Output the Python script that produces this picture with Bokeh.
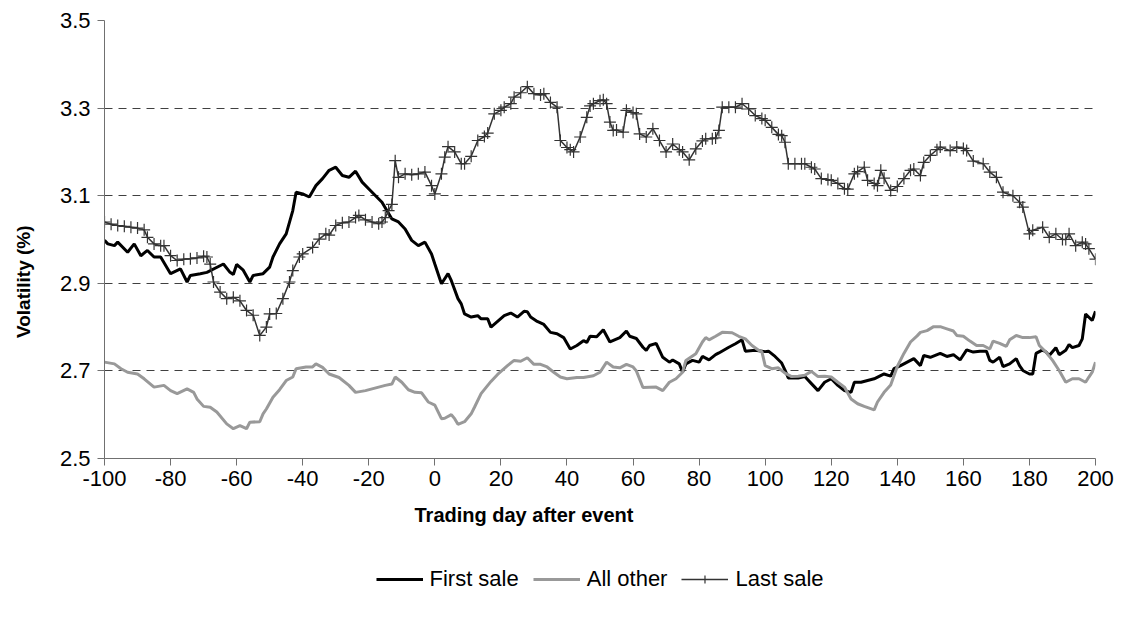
from bokeh.plotting import figure
from bokeh.models import Legend, LegendItem, FixedTicker, NumeralTickFormatter, Label
from bokeh.layouts import column
from bokeh.embed import file_html
from bokeh.resources import INLINE

# ---- data ----
first_day = [-100, -99, -97, -96, -93, -91, -89, -87, -85, -83, -80, -77, -75, -74, -71, -69, -64, -62, -61, -60,
             -58, -56, -55, -52, -50, -49, -47, -45, -43, -42, -40, -38, -36, -34, -32, -30, -28, -26, -24, -22,
             -19, -16, -13, -11, -9, -7, -5, -3, -1, 0, 2, 4, 5, 7, 8, 9, 11, 13, 14, 16,
             17, 19, 21, 23, 25, 27, 28, 29, 31, 33, 35, 37, 39, 41, 43, 45, 46, 47, 49, 51,
             53, 56, 58, 59, 61, 63, 64, 65, 67, 69, 71, 72, 74, 75, 76, 78, 80, 81, 83, 85,
             86, 89, 91, 93, 94, 97, 100, 101, 103, 105, 106, 107, 110, 112, 114, 116, 118, 120, 122, 124,
             126, 127, 129, 131, 133, 136, 138, 139, 141, 143, 145, 147, 148, 150, 153, 155, 157, 159, 161, 163,
             165, 167, 168, 169, 171, 172, 174, 176, 177, 178, 180, 181, 182, 184, 185, 186, 188, 189, 191, 192,
             193, 195, 196, 197, 199, 200]
first_val = [2.998, 2.990, 2.986, 2.994, 2.971, 2.990, 2.963, 2.975, 2.960, 2.960, 2.922, 2.933, 2.903, 2.918, 2.922, 2.925, 2.944, 2.925, 2.920, 2.943,
             2.930, 2.903, 2.918, 2.922, 2.937, 2.960, 2.990, 3.013, 3.066, 3.108, 3.104, 3.097, 3.123, 3.139, 3.158, 3.165, 3.146, 3.142, 3.156, 3.131,
             3.108, 3.085, 3.047, 3.040, 3.024, 2.998, 2.986, 2.994, 2.967, 2.944, 2.899, 2.922, 2.906, 2.865, 2.853, 2.830, 2.823, 2.826, 2.819, 2.819,
             2.800, 2.813, 2.826, 2.832, 2.823, 2.836, 2.835, 2.823, 2.813, 2.806, 2.788, 2.785, 2.776, 2.750, 2.758, 2.769, 2.765, 2.779, 2.778, 2.794,
             2.766, 2.776, 2.791, 2.779, 2.774, 2.754, 2.747, 2.758, 2.763, 2.731, 2.720, 2.725, 2.716, 2.697, 2.716, 2.724, 2.720, 2.733, 2.725, 2.737,
             2.741, 2.754, 2.762, 2.771, 2.745, 2.747, 2.744, 2.745, 2.733, 2.718, 2.702, 2.684, 2.684, 2.687, 2.671, 2.655, 2.674, 2.682, 2.667, 2.655,
             2.651, 2.674, 2.674, 2.678, 2.682, 2.693, 2.688, 2.705, 2.712, 2.720, 2.728, 2.712, 2.735, 2.731, 2.740, 2.733, 2.737, 2.725, 2.748, 2.743,
             2.745, 2.745, 2.724, 2.720, 2.731, 2.710, 2.716, 2.728, 2.712, 2.701, 2.693, 2.693, 2.740, 2.748, 2.743, 2.735, 2.753, 2.737, 2.747, 2.760,
             2.753, 2.758, 2.773, 2.830, 2.815, 2.836]

other_day = [-100, -97, -95, -93, -90, -88, -85, -82, -80, -78, -75, -73, -72, -70, -68, -66, -63, -61, -59, -57,
             -56, -53, -52, -51, -49, -47, -45, -43, -42, -39, -37, -36, -34, -32, -29, -26, -24, -21, -19, -17,
             -15, -13, -12, -10, -8, -6, -4, -2, 0, 2, 3, 5, 6, 7, 9, 11, 12, 14, 17, 19,
             22, 24, 26, 28, 30, 32, 34, 36, 38, 40, 43, 45, 48, 50, 52, 54, 56, 58, 60, 61,
             63, 67, 69, 71, 73, 75, 76, 79, 81, 82, 83, 85, 87, 90, 92, 94, 96, 98, 99, 100,
             102, 104, 106, 108, 110, 112, 114, 116, 118, 120, 122, 124, 126, 128, 130, 133, 134, 136, 138, 140,
             142, 144, 146, 147, 149, 151, 153, 155, 157, 158, 160, 162, 164, 166, 168, 169, 171, 173, 174, 176,
             178, 180, 182, 183, 185, 187, 189, 191, 193, 195, 197, 198, 199, 200]
other_val = [2.720, 2.716, 2.705, 2.697, 2.693, 2.682, 2.663, 2.667, 2.655, 2.648, 2.659, 2.651, 2.636, 2.619, 2.617, 2.606, 2.579, 2.568, 2.575, 2.568,
             2.583, 2.584, 2.602, 2.613, 2.640, 2.657, 2.678, 2.686, 2.705, 2.709, 2.709, 2.716, 2.708, 2.693, 2.685, 2.667, 2.651, 2.655, 2.659, 2.663,
             2.667, 2.670, 2.686, 2.674, 2.657, 2.651, 2.650, 2.629, 2.622, 2.591, 2.592, 2.600, 2.591, 2.578, 2.584, 2.602, 2.617, 2.648, 2.676, 2.692,
             2.712, 2.724, 2.722, 2.730, 2.715, 2.715, 2.709, 2.697, 2.686, 2.682, 2.685, 2.685, 2.689, 2.697, 2.720, 2.709, 2.707, 2.715, 2.709, 2.700,
             2.662, 2.663, 2.655, 2.674, 2.682, 2.697, 2.724, 2.739, 2.766, 2.776, 2.771, 2.779, 2.788, 2.787, 2.779, 2.773, 2.758, 2.747, 2.744, 2.712,
             2.705, 2.707, 2.695, 2.687, 2.688, 2.690, 2.699, 2.687, 2.688, 2.686, 2.674, 2.663, 2.636, 2.625, 2.619, 2.611, 2.629, 2.651, 2.668, 2.710,
             2.740, 2.766, 2.780, 2.788, 2.792, 2.801, 2.801, 2.796, 2.791, 2.781, 2.779, 2.768, 2.758, 2.758, 2.750, 2.768, 2.763, 2.756, 2.771, 2.781,
             2.776, 2.776, 2.778, 2.758, 2.743, 2.724, 2.701, 2.674, 2.682, 2.682, 2.674, 2.686, 2.697, 2.720]

last_day = [-100, -98, -96, -94, -92, -90, -88, -87, -85, -83, -82, -80, -78, -76, -74, -72, -70, -69, -68, -67,
            -65, -63, -61, -59, -57, -55, -53, -51, -50, -48, -46, -44, -43, -41, -40, -37, -35, -33, -32, -30,
            -28, -26, -24, -23, -21, -19, -17, -16, -15, -14, -13, -12, -11, -9, -7, -5, -3, -1, 0, 2,
            3, 4, 6, 8, 9, 11, 13, 15, 16, 18, 20, 21, 23, 24, 26, 28, 30, 32, 33, 35,
            37, 38, 40, 41, 42, 44, 46, 47, 48, 50, 51, 52, 53, 54, 55, 57, 58, 60, 61, 62,
            64, 66, 68, 70, 72, 74, 75, 77, 79, 81, 82, 84, 85, 86, 87, 89, 91, 93, 95, 97,
            99, 100, 102, 104, 105, 106, 107, 109, 111, 112, 114, 115, 117, 119, 120, 122, 124, 125, 127, 128,
            130, 131, 133, 134, 135, 136, 138, 140, 142, 144, 145, 147, 148, 150, 152, 153, 156, 158, 160, 161,
            163, 166, 168, 170, 172, 175, 177, 178, 180, 181, 184, 186, 188, 190, 191, 192, 194, 196, 197, 198,
            200]
last_val = [3.040, 3.035, 3.032, 3.030, 3.028, 3.026, 3.022, 3.005, 2.990, 2.986, 2.986, 2.963, 2.952, 2.955, 2.956, 2.958, 2.962, 2.960, 2.944, 2.903,
            2.880, 2.865, 2.868, 2.860, 2.838, 2.827, 2.781, 2.800, 2.830, 2.831, 2.865, 2.903, 2.929, 2.960, 2.967, 2.982, 3.001, 3.013, 3.010, 3.032,
            3.038, 3.040, 3.050, 3.055, 3.045, 3.040, 3.036, 3.040, 3.050, 3.066, 3.080, 3.180, 3.142, 3.150, 3.148, 3.150, 3.154, 3.123, 3.104, 3.150,
            3.188, 3.212, 3.200, 3.173, 3.173, 3.190, 3.226, 3.235, 3.243, 3.287, 3.295, 3.302, 3.310, 3.325, 3.335, 3.349, 3.333, 3.330, 3.333, 3.313,
            3.302, 3.226, 3.210, 3.205, 3.200, 3.234, 3.279, 3.305, 3.310, 3.317, 3.319, 3.310, 3.268, 3.249, 3.250, 3.245, 3.295, 3.290, 3.287, 3.241,
            3.234, 3.253, 3.226, 3.200, 3.218, 3.205, 3.200, 3.182, 3.207, 3.225, 3.230, 3.230, 3.232, 3.249, 3.302, 3.302, 3.302, 3.310, 3.298, 3.283,
            3.276, 3.272, 3.256, 3.240, 3.237, 3.222, 3.173, 3.173, 3.173, 3.173, 3.165, 3.161, 3.139, 3.137, 3.135, 3.128, 3.116, 3.115, 3.150, 3.155,
            3.165, 3.135, 3.128, 3.123, 3.158, 3.140, 3.112, 3.121, 3.139, 3.158, 3.161, 3.146, 3.176, 3.192, 3.205, 3.211, 3.203, 3.211, 3.208, 3.203,
            3.179, 3.173, 3.154, 3.142, 3.108, 3.100, 3.085, 3.074, 3.013, 3.021, 3.028, 3.005, 3.013, 3.000, 3.000, 3.013, 2.986, 2.994, 2.990, 2.979,
            2.955]

y_ticks = [2.5, 2.7, 2.9, 3.1, 3.3, 3.5]
x_ticks = list(range(-100, 201, 20))
series_names = ["First sale", "All other", "Last sale"]
x_title = "Trading day after event"
y_title = "Volatility (%)"

FONT = "Liberation Sans"
C_FIRST, C_OTHER, C_LAST = "black", "#999999", "#333333"

# ---------------- main chart ----------------
p = figure(width=1117, height=498, x_range=(-100, 200), y_range=(2.5, 3.5),
           output_backend="svg", toolbar_location=None,
           min_border_left=104, min_border_right=22, min_border_top=20, min_border_bottom=40)
p.outline_line_color = None
p.background_fill_color = "white"
p.border_fill_color = "white"

p.xgrid.grid_line_color = None
p.ygrid.ticker = FixedTicker(ticks=y_ticks)
p.ygrid.grid_line_color = "#404040"
p.ygrid.grid_line_dash = "8 6"
p.ygrid.grid_line_width = 1

for ax in (p.xaxis[0], p.yaxis[0]):
    ax.axis_line_color = "#707070"
    ax.axis_line_width = 1
    ax.major_tick_line_color = "#707070"
    ax.major_tick_out = 7
    ax.major_tick_in = 0
    ax.minor_tick_line_color = None
    ax.major_label_text_font = FONT
    ax.major_label_text_font_size = "22px"
    ax.major_label_text_color = "black"

p.yaxis.ticker = FixedTicker(ticks=y_ticks)
p.yaxis.formatter = NumeralTickFormatter(format="0.0")
p.yaxis.major_label_standoff = 7
# the reference's axis title sits below the axis centre; trailing no-break spaces shift it
p.yaxis.axis_label = y_title + "\u00a0" * 16
p.yaxis.axis_label_text_font = FONT
p.yaxis.axis_label_text_font_size = "19px"
p.yaxis.axis_label_text_font_style = "bold"
p.yaxis.axis_label_text_color = "black"
p.yaxis.axis_label_standoff = 23

p.xaxis.ticker = FixedTicker(ticks=x_ticks)
p.xaxis.major_label_overrides = {t: str(t) for t in x_ticks}
p.xaxis.major_label_standoff = 5

r_first = p.line(first_day, first_val, line_color=C_FIRST, line_width=3)
r_other = p.line(other_day, other_val, line_color=C_OTHER, line_width=3)
r_last_line = p.line(last_day, last_val, line_color=C_LAST, line_width=1.5)
r_last_mark = p.scatter(last_day, last_val, marker="cross", size=12, line_color=C_LAST, line_width=1.2)

# ---------------- strip below: x-axis title and legend ----------------
H2 = 119
q = figure(width=1117, height=H2, x_range=(0, 991), y_range=(0, H2),
           output_backend="svg", toolbar_location=None,
           x_axis_location=None, y_axis_location=None,
           min_border_left=104, min_border_right=22, min_border_top=0, min_border_bottom=0)
q.outline_line_color = None
q.grid.visible = False
q.background_fill_color = "white"
q.border_fill_color = "white"

q.add_layout(Label(x=310, y=H2 - 16, text=x_title, text_align="left", text_baseline="middle",
                   text_font=FONT, text_font_size="20px", text_font_style="bold", text_color="black"))

# legend swatches: same styles as the series, placed outside this strip's visible range
off_x, off_y = [-50, -40], [-50, -50]
k_first = q.line(off_x, off_y, line_color=C_FIRST, line_width=3)
k_other = q.line(off_x, off_y, line_color=C_OTHER, line_width=3)
k_last_line = q.line(off_x, off_y, line_color=C_LAST, line_width=1.5)
k_last_mark = q.scatter(off_x[:1], off_y[:1], marker="cross", size=12, line_color=C_LAST, line_width=1.2)

legend = Legend(items=[LegendItem(label=series_names[0], renderers=[k_first]),
                       LegendItem(label=series_names[1], renderers=[k_other]),
                       LegendItem(label=series_names[2], renderers=[k_last_line, k_last_mark])],
                orientation="horizontal", location="bottom_center",
                border_line_color=None, background_fill_alpha=0,
                glyph_width=47, glyph_height=20, label_standoff=7, spacing=14,
                padding=0, margin=25,
                label_text_font=FONT, label_text_font_size="22px", label_text_color="black")
q.add_layout(legend, "center")

layout = column(p, q, spacing=0)
open("out.html", "w").write(file_html(layout, INLINE))
